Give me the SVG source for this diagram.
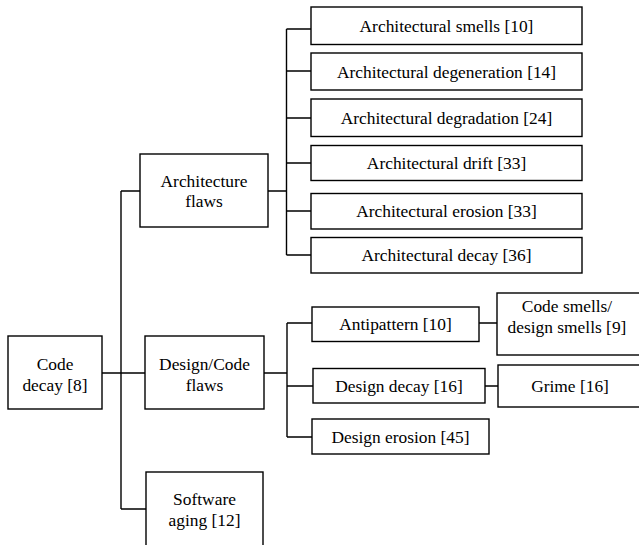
<svg xmlns="http://www.w3.org/2000/svg" width="639" height="545" viewBox="0 0 639 545">
<style>
rect{fill:#fff;stroke:#000;stroke-width:1.4}
text{font-family:'Liberation Serif','DejaVu Serif',serif;font-size:17.4px;fill:#000;text-anchor:middle}
#connectors path{fill:none;stroke:#000;stroke-width:1.4}
</style>
<rect x="0" y="0" width="639" height="545" style="stroke:none"/>
<g id="connectors">
<path d="M121,191 V509 M102,373 H145 M121,191 H140 M121,509 H146"/>
<path d="M268,191 H286.5 M286.5,29 V255 M286.5,29 H311 M286.5,71 H311 M286.5,118 H311 M286.5,163 H311 M286.5,211 H311 M286.5,255 H311"/>
<path d="M264,373 H287 M287,323 V437 M287,323 H312 M287,386 H313 M287,437 H312"/>
<path d="M479,323 H497 M485,386 H498"/>
</g>
<g id="code-decay"><rect x="8" y="336" width="94" height="73"/><text x="55" y="370">Code</text><text x="55" y="391">decay [8]</text></g>
<g id="architecture-flaws"><rect x="140" y="154" width="128" height="73"/><text x="204" y="187">Architecture</text><text x="204" y="207">flaws</text></g>
<g id="design-code-flaws"><rect x="145" y="336" width="119" height="73"/><text x="204.5" y="370">Design/Code</text><text x="204.5" y="391">flaws</text></g>
<g id="software-aging"><rect x="146" y="472" width="117" height="80"/><text x="204.5" y="505">Software</text><text x="204.5" y="526">aging [12]</text></g>
<g id="arch-smells"><rect x="311" y="7" width="271" height="37.5"/><text x="446.5" y="32">Architectural smells [10]</text></g>
<g id="arch-degeneration"><rect x="311" y="53" width="271" height="37"/><text x="446.5" y="78">Architectural degeneration [14]</text></g>
<g id="arch-degradation"><rect x="311" y="99" width="271" height="37.5"/><text x="446.5" y="124">Architectural degradation [24]</text></g>
<g id="arch-drift"><rect x="311" y="145.5" width="271" height="35"/><text x="446.5" y="169">Architectural drift [33]</text></g>
<g id="arch-erosion"><rect x="311" y="193.5" width="271" height="35.5"/><text x="446.5" y="217">Architectural erosion [33]</text></g>
<g id="arch-decay"><rect x="311" y="237.5" width="271" height="35.5"/><text x="446.5" y="261">Architectural decay [36]</text></g>
<g id="antipattern"><rect x="312" y="307" width="167" height="34.5"/><text x="395.5" y="330">Antipattern [10]</text></g>
<g id="code-smells"><rect x="497" y="293" width="145" height="62"/><text x="567" y="312">Code smells/</text><text x="567" y="333">design smells [9]</text></g>
<g id="design-decay"><rect x="313" y="368.5" width="172" height="34.5"/><text x="399" y="392">Design decay [16]</text></g>
<g id="grime"><rect x="498" y="365" width="144" height="42"/><text x="570" y="392">Grime [16]</text></g>
<g id="design-erosion"><rect x="312" y="419" width="177" height="35"/><text x="400.5" y="443">Design erosion [45]</text></g>
</svg>
